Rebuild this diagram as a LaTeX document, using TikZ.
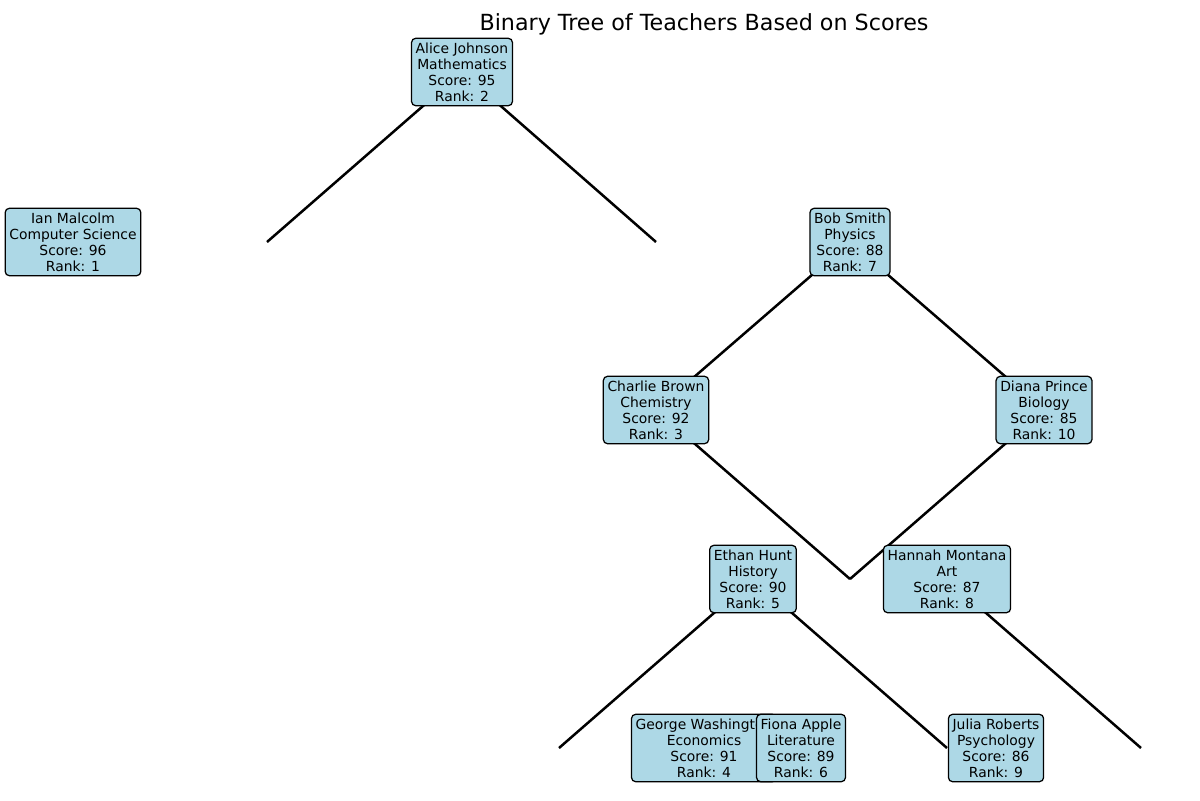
\documentclass[tikz,border=0pt]{standalone}
\usepackage{fontspec}
\setmainfont{DejaVu Sans}
\usetikzlibrary{backgrounds}
\definecolor{boxblue}{HTML}{ADD8E6}
\tikzset{
  tbox/.style={draw=black, line width=0.9pt, fill=boxblue, rounded corners=3pt,
    inner sep=3pt, align=center, font=\fontsize{10pt}{11.6pt}\selectfont},
  edge/.style={draw=black, line width=1.8pt}
}
\begin{document}
\begin{tikzpicture}[x=0.72pt, y=-0.72pt]
\useasboundingbox (0,0) rectangle (1200,800);
\node[font=\fontsize{16pt}{19pt}\selectfont] (title) at (704,24) {Binary Tree of Teachers Based on Scores};
\coordinate (c1) at (267,242);
\coordinate (c2) at (656,242);
\coordinate (c3) at (850,579);
\coordinate (c4) at (1141,748);
\coordinate (c5) at (559,748);
\coordinate (c6) at (947,748);
\node[tbox] (alice) at (462,72) {Alice Johnson\\Mathematics\\Score: 95\\Rank: 2};
\node[tbox] (ian) at (73,242) {Ian Malcolm\\Computer Science\\Score: 96\\Rank: 1};
\node[tbox] (bob) at (850,242) {Bob Smith\\Physics\\Score: 88\\Rank: 7};
\node[tbox] (charlie) at (656,410) {Charlie Brown\\Chemistry\\Score: 92\\Rank: 3};
\node[tbox] (diana) at (1044,410) {Diana Prince\\Biology\\Score: 85\\Rank: 10};
\node[tbox] (ethan) at (753,579) {Ethan Hunt\\History\\Score: 90\\Rank: 5};
\node[tbox] (hannah) at (947,579) {Hannah Montana\\Art\\Score: 87\\Rank: 8};
\node[tbox] (george) at (704,748) {George Washington\\Economics\\Score: 91\\Rank: 4};
\node[tbox] (fiona) at (801,748) {Fiona Apple\\Literature\\Score: 89\\Rank: 6};
\node[tbox] (julia) at (996,748) {Julia Roberts\\Psychology\\Score: 86\\Rank: 9};
\begin{scope}[on background layer]
\fill[white] (0,0) rectangle (1200,800);
\draw[edge] (alice.center) -- (c1);
\draw[edge] (alice.center) -- (c2);
\draw[edge] (bob.center) -- (charlie.center);
\draw[edge] (bob.center) -- (diana.center);
\draw[edge] (charlie.center) -- (c3);
\draw[edge] (diana.center) -- (c3);
\draw[edge] (hannah.center) -- (c4);
\draw[edge] (ethan.center) -- (c5);
\draw[edge] (ethan.center) -- (c6);
\end{scope}
\end{tikzpicture}
\end{document}
